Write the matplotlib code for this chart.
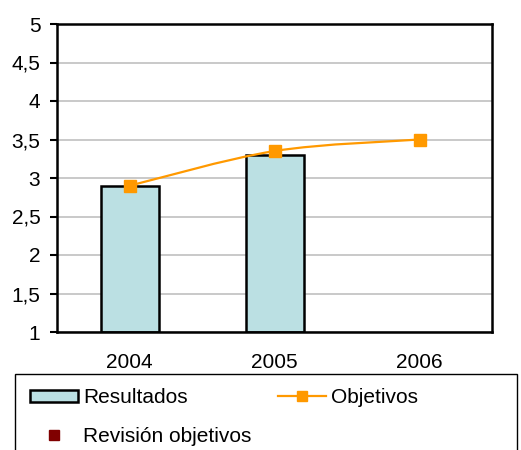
import matplotlib
matplotlib.use("Agg")
import matplotlib.pyplot as plt
from matplotlib.path import Path
from matplotlib.patches import PathPatch, Rectangle
from matplotlib.lines import Line2D
from matplotlib.ticker import FuncFormatter

plt.rcParams['font.family'] = ['Liberation Sans', 'DejaVu Sans']

years = ['2004', '2005', '2006']
resultados = [2.9, 3.3]
objetivos = [2.9, 3.35, 3.5]

bar_color = '#BBE0E3'
obj_color = '#FF9900'
rev_color = '#800000'

fig = plt.figure(figsize=(5.21, 4.5), dpi=100)
ax = fig.add_axes([57 / 521, 1 - 332 / 450, 435 / 521, 308 / 450])

x_res = list(range(len(resultados)))
x_obj = list(range(len(objetivos)))

ax.bar(x_res, [v - 1 for v in resultados], bottom=1, width=0.4,
       color=bar_color, edgecolor='black', linewidth=1.8, zorder=2)

# smooth line (Excel style) drawn as bezier segments through the points
verts = [(x_obj[0], objetivos[0])]
codes = [Path.MOVETO]
t = 1 / 6
n = len(objetivos)
for i in range(n - 1):
    p0 = (x_obj[max(i - 1, 0)], objetivos[max(i - 1, 0)])
    p1 = (x_obj[i], objetivos[i])
    p2 = (x_obj[i + 1], objetivos[i + 1])
    p3 = (x_obj[min(i + 2, n - 1)], objetivos[min(i + 2, n - 1)])
    c1 = (p1[0] + (p2[0] - p0[0]) * t, p1[1] + (p2[1] - p0[1]) * t)
    c2 = (p2[0] - (p3[0] - p1[0]) * t, p2[1] - (p3[1] - p1[1]) * t)
    verts += [c1, c2, p2]
    codes += [Path.CURVE4] * 3
ax.add_patch(PathPatch(Path(verts, codes), facecolor='none', edgecolor=obj_color,
                       linewidth=1.6, zorder=3))
ax.plot(x_obj, objetivos, linestyle='none', marker='s', markersize=8,
        color=obj_color, zorder=4)

ax.set_xlim(-0.5, 2.5)
ax.set_ylim(1, 5)
ax.set_yticks([1, 1.5, 2, 2.5, 3, 3.5, 4, 4.5, 5])
ax.yaxis.set_major_formatter(FuncFormatter(lambda v, p: ('%g' % v).replace('.', ',')))
ax.set_xticks(x_obj)
ax.set_xticklabels(years)
ax.tick_params(axis='x', length=0, pad=15, labelsize=15)
ax.tick_params(axis='y', length=5, width=1.5, direction='out', pad=7, labelsize=15)
ax.grid(axis='y', color='#C0C0C0', linewidth=1.2, zorder=1)
ax.set_axisbelow(True)
for s in ax.spines.values():
    s.set_linewidth(1.8)
    s.set_color('black')

# legend frame
fig.patches.append(Rectangle((15 / 521, -0.01), 502 / 521, 1 - 374 / 450 + 0.01,
                             transform=fig.transFigure, facecolor='white',
                             edgecolor='black', linewidth=1))

handles = [
    Rectangle((0, 0), 1, 1, facecolor=bar_color, edgecolor='black', linewidth=1.8),
    Line2D([], [], color=rev_color, marker='s', markersize=7.5, linestyle='none'),
    Line2D([], [], color=obj_color, marker='s', markersize=7.5, linewidth=1.6),
]
labels = ['Resultados', 'Revisión objetivos', 'Objetivos']
fig.legend(handles, labels, ncol=2, loc='upper left',
           bbox_to_anchor=(22 / 521, 1 - 380 / 450), frameon=False,
           fontsize=15, handlelength=2.3, handleheight=0.58, handletextpad=0.24,
           columnspacing=1.25, labelspacing=0.95, borderaxespad=0)

fig.savefig('out.png', dpi=100)
